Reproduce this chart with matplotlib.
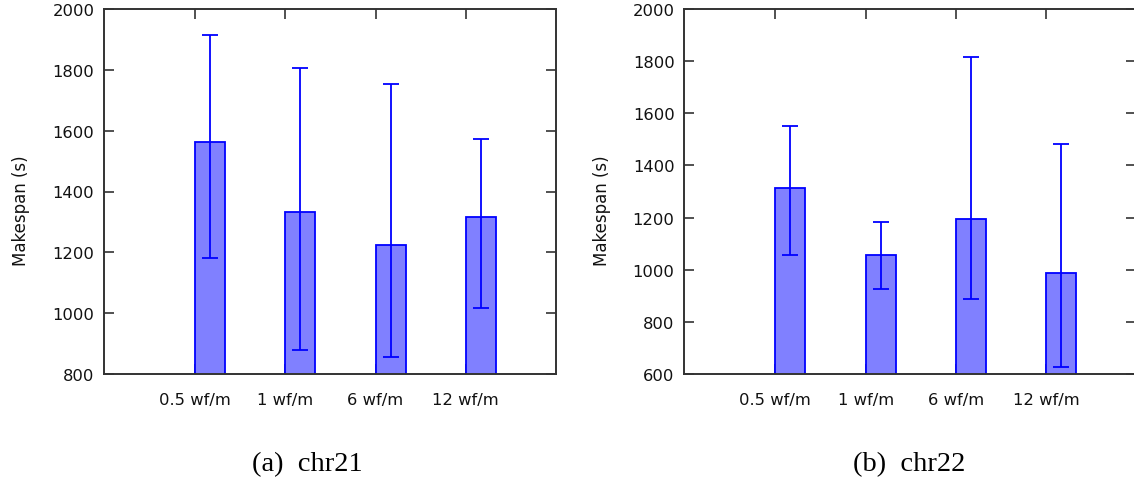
import numpy as np
import matplotlib
matplotlib.use("Agg")
import matplotlib.pyplot as plt

# Data
labels = ['0.5 wf/m', '1 wf/m', '6 wf/m', '12 wf/m']

chr21_mean = [1563, 1333, 1225, 1315]
chr21_low = [1180, 879, 856, 1018]
chr21_high = [1915, 1805, 1753, 1572]

chr22_mean = [1312, 1056, 1194, 987]
chr22_low = [1055, 927, 889, 627]
chr22_high = [1551, 1183, 1816, 1483]

fig = plt.figure(figsize=(11.34, 4.85), dpi=100)

def draw(ax, mean, low, high, ylim, yticks):
    x = np.arange(len(labels))
    mean = np.array(mean)
    err = [mean - np.array(low), np.array(high) - mean]
    ax.bar(x + 1/6, mean, width=1/3, color='#8080ff', edgecolor='#0000ff',
           linewidth=1.3, zorder=2)
    ax.errorbar(x + 1/6, mean, yerr=err, fmt='none', ecolor='#0000ff',
                elinewidth=1.3, capsize=5.5, capthick=1.3, zorder=3)
    ax.set_xlim(-1.01, 4.0)
    ax.set_ylim(*ylim)
    ax.set_yticks(yticks)
    ax.set_xticks(x)
    ax.set_xticklabels(labels)
    ax.tick_params(direction='in', length=7, width=1.2, color='#333333',
                   top=True, right=True, labelsize=11.8, labelcolor='#111111')
    ax.tick_params(axis='x', pad=13)
    ax.tick_params(axis='y', pad=7)
    for s in ax.spines.values():
        s.set_linewidth(1.4)
        s.set_color('#333333')
    ax.set_ylabel('Makespan (s)', fontsize=12, color='#111111')
    ax.yaxis.set_label_coords(-0.163, 0.45)

ax1 = fig.add_axes([104/1134, 1 - 375/485, 452/1134, 365/485])
draw(ax1, chr21_mean, chr21_low, chr21_high, (800, 2000), range(800, 2001, 200))

# right panel runs past the figure edge, as in the original (cropped)
ax2 = fig.add_axes([684.3/1134, 1 - 375/485, 452/1134, 365/485])
draw(ax2, chr22_mean, chr22_low, chr22_high, (600, 2000), range(600, 2001, 200))

fig.text(307/1134, 1 - 465/485, '(a)  chr21', ha='center', va='center',
         fontsize=20.5, family='Liberation Serif')
fig.text(909/1134, 1 - 465/485, '(b)  chr22', ha='center', va='center',
         fontsize=20.5, family='Liberation Serif')

fig.savefig('out.png', dpi=100)
